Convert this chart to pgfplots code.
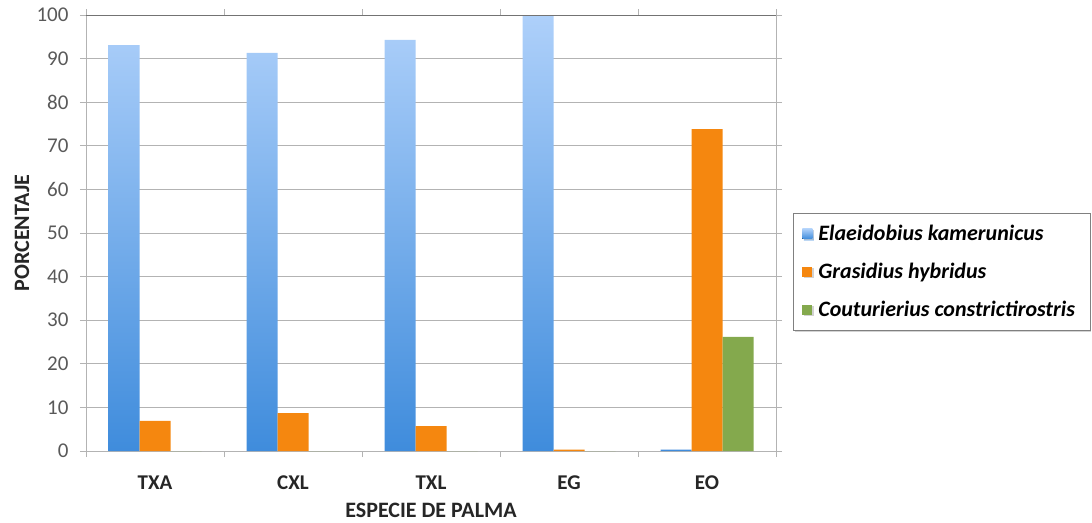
\documentclass[border=0pt]{standalone}
\usepackage{pgfplots}
\pgfplotsset{compat=1.18}
\usepackage{fontspec}
\setmainfont{Carlito}
\usetikzlibrary{shadows}

\definecolor{blueTop}{HTML}{AED0FA}
\definecolor{blueBot}{HTML}{3F8CDC}
\definecolor{orangeBar}{HTML}{F5870F}
\definecolor{greenBar}{HTML}{84A94D}
\definecolor{tickGray}{HTML}{595959}
\definecolor{gridGray}{HTML}{B3B3B3}

\pgfplotsset{
  sq legend/.style={legend image code/.code={%
      \fill[##1, draw=none] (0pt,-5pt) rectangle (10pt,5pt);}},
}

\begin{document}
\begin{tikzpicture}
\useasboundingbox (0,0) rectangle (1092pt,-522pt);
\begin{axis}[
  at={(86pt,-451pt)}, anchor=south west,
  scale only axis, width=690pt, height=436pt,
  xmin=-0.5, xmax=4.5, ymin=0, ymax=100,
  ybar=0pt, bar width=31pt,
  xtick={0,...,4}, xticklabels={TXA,CXL,TXL,EG,EO},
  minor xtick={-0.5,0.5,...,4.5},
  ytick={0,10,...,100},
  tick align=outside,
  major tick length=6pt, minor tick length=6pt,
  major x tick style={draw=none},
  minor x tick style={gridGray, line width=0.8pt},
  y tick style={gridGray, line width=0.8pt},
  ymajorgrids, grid style={gridGray, line width=0.8pt},
  axis line style={gridGray, line width=0.8pt},
  /pgf/number format/assume math mode=true,
  tick label style={font=\fontsize{21}{24}\selectfont},
  yticklabel style={color=tickGray, xshift=-8pt},
  xticklabel style={font=\fontsize{21}{24}\selectfont\bfseries, color=black!85, yshift=-15pt},
  ylabel={PORCENTAJE}, xlabel={ESPECIE DE PALMA},
  label style={font=\fontsize{22}{24}\selectfont\bfseries, color=black!85},
  y label style={at={(axis description cs:-0.0928,0.5)}, anchor=center},
  x label style={at={(axis description cs:0.5,-0.1353)}, anchor=center},
  legend cell align=left,
  legend style={at={(axis description cs:1.0246,0.546)}, anchor=north west,
    draw=gray, fill=white, line width=0.8pt,
    font=\fontsize{22}{24}\selectfont\bfseries\itshape,
    row sep=17pt, inner xsep=9pt, inner ysep=10pt,
    nodes={inner xsep=6pt},
    drop shadow={shadow xshift=1.5pt, shadow yshift=-1.5pt, opacity=0.35}},
]
\addplot[draw=none, top color=blueTop, bottom color=blueBot, sq legend]
  coordinates {(0,93.1) (1,91.3) (2,94.3) (3,100) (4,0.3)};
\addplot[draw=none, fill=orangeBar, sq legend]
  coordinates {(0,6.9) (1,8.7) (2,5.7) (3,0.3) (4,73.8)};
\addplot[draw=none, fill=greenBar, sq legend]
  coordinates {(0,0) (1,0) (2,0) (3,0) (4,26.2)};
\legend{Elaeidobius kamerunicus, Grasidius hybridus, Couturierius constrictirostris}
% darker upper frame line
\draw[line width=1.6pt, color=black!55] (rel axis cs:0,1) -- (rel axis cs:1,1);
\end{axis}
\end{tikzpicture}
\end{document}
